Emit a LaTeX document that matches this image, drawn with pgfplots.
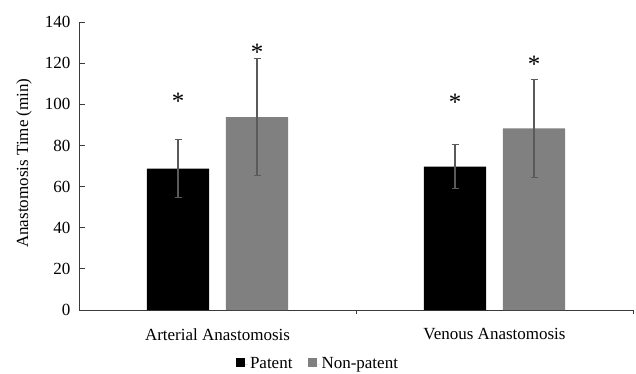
\documentclass[border=0pt]{standalone}
\usepackage{fontspec}
\setmainfont{Liberation Serif}
\usepackage{pgfplots}
\pgfplotsset{compat=1.18}
\definecolor{npgray}{HTML}{808080}
\definecolor{errgray}{HTML}{5A5A5A}
\definecolor{axgray}{HTML}{3A3A3A}
\begin{document}
\begin{tikzpicture}
\path[use as bounding box] (0,0) rectangle (636pt,373pt);
\begin{axis}[
  at={(79pt,63pt)}, anchor=south west,
  scale only axis, width=554pt, height=288pt,
  xmin=-0.5, xmax=1.5, ymin=0, ymax=140,
  clip=false,
  ytick={0,20,...,140},
  xtick={0,1}, xticklabels={Arterial Anastomosis, Venous Anastomosis},
  axis x line*=bottom, axis y line*=left,
  axis line style={axgray, line width=1pt, -},
  tick align=inside, major tick length=6pt,
  every major tick/.append style={draw=axgray, line width=1pt},
  x tick style={draw=none},
  font=\fontsize{17}{20}\selectfont,
  /pgf/number format/assume math mode=true,
  yticklabel style={xshift=-5pt},
  xticklabel style={yshift=-9pt},
  ylabel={Anastomosis Time (min)},
  ylabel style={at={(axis description cs:-0.0993,0.51)}, anchor=center},
  legend columns=2,
  legend style={draw=none, at={(axis description cs:0.4314,-0.188)}, anchor=center,
     font=\fontsize{17}{20}\selectfont,
     /tikz/every even column/.append style={column sep=13pt}},
  ybar, bar width=0.224,
  error bars/y dir=both, error bars/y explicit,
  error bars/error bar style={errgray, line width=1.1pt},
  error bars/error mark options={rotate=90, mark size=3.5pt, errgray, line width=1.1pt},
]
\addplot[fill=black, draw=none, bar shift=-0.1426,
  legend image code/.code={\path (0pt,0pt) -- (12pt,0pt); \fill[black] (0pt,-3pt) rectangle (9pt,6pt);}] coordinates {
  (0,68.7) +- (0,14.1)
  (1,69.7) +- (0,10.6)
};
\addlegendentry{Patent}
\addplot[fill=npgray, draw=none, bar shift=0.1426,
  legend image code/.code={\path (0pt,0pt) -- (12pt,0pt); \fill[npgray] (0pt,-3pt) rectangle (9pt,6pt);}] coordinates {
  (0,93.7) +- (0,28.4)
  (1,88.3) +- (0,23.7)
};
\addlegendentry{Non-patent}
\addplot[forget plot, draw=none, mark=none, bar width=0, bar shift=0,
  error bars/y dir=none,
  nodes near coords={\fontsize{25}{25}\selectfont *},
  nodes near coords style={anchor=base, yshift=-12pt, inner sep=0pt}]
  coordinates {(-0.1426,103.5) (0.1426,127.2) (0.8574,103) (1.1426,121.5)};
\draw[axgray, line width=1pt] (axis cs:0.5,0) -- ([yshift=-4pt]axis cs:0.5,0);
\draw[axgray, line width=1pt] (axis cs:1.5,0) -- ([yshift=-4pt]axis cs:1.5,0);
\end{axis}
\end{tikzpicture}
\end{document}
